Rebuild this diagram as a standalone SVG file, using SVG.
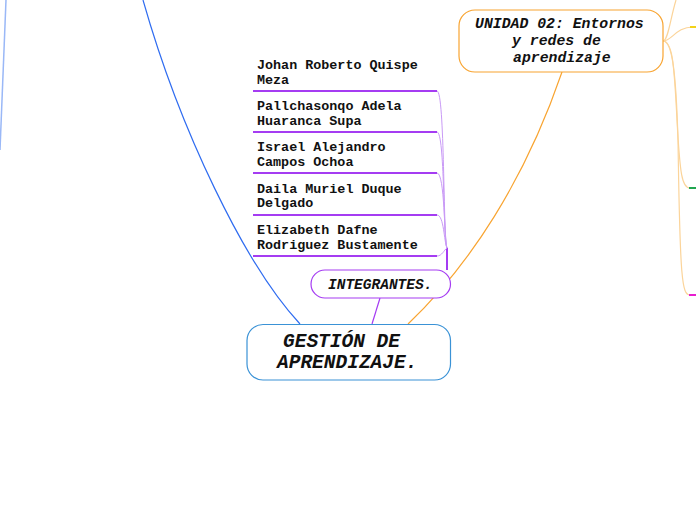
<svg xmlns="http://www.w3.org/2000/svg" width="696" height="520" viewBox="0 0 696 520">
<style>
.mono{font-family:"Liberation Mono","Courier New",monospace;font-weight:bold;fill:#111}
.it{font-style:italic}
.item{font-size:13.4px}
.pl{stroke:#a53cf2;stroke-width:2;fill:none}
.pt{stroke:#c99af6;stroke-width:1;fill:none}
.or{stroke:#fbd49a;stroke-width:1.2;fill:none}
</style>
<rect width="696" height="520" fill="#fff"/>
<g id="connectors" fill="none">
  <path d="M6,0 C4,60 2,110 0,150" stroke="#9ab8f7" stroke-width="1.5"/>
  <path d="M300,324 C245,265 180,130 143,0" stroke="#2f6cf0" stroke-width="1.2"/>
  <path d="M408,324 C470,265 525,180 562,72" stroke="#f8a431" stroke-width="1.2"/>
  <path d="M380,298 L372,324" stroke="#a53cf2" stroke-width="1.2"/>
  <path d="M447,248 L447,270" class="pl"/>
  <path d="M437,91 C445,91 443,240 447,248" class="pt"/>
  <path d="M437,132 C445,132 443,240 447,248" class="pt"/>
  <path d="M437,173 C445,173 444,240 447,248" class="pt"/>
  <path d="M437,215 C444,215 444,242 447,248" class="pt"/>
  <path d="M437,256 C442,256 444,250 447,248" class="pt"/>
  <path d="M663,41 C668,41 670,20 676,0" class="or"/>
  <path d="M663,41 C672,41 676,27 693,27" class="or"/>
  <path d="M663,41 C672,41 674,60 677,120 C680,175 682,188 690,188" class="or"/>
  <path d="M663,41 C672,41 676,70 678,140 C680,280 682,295 690,295" class="or"/>
  <path d="M690,27 L696,27" stroke="#f2d21a" stroke-width="2"/>
  <path d="M689,188 L696,188" stroke="#21a650" stroke-width="2"/>
  <path d="M689,295 L696,295" stroke="#e81ed0" stroke-width="2"/>
</g>
<g id="central">
  <rect x="247" y="324.5" width="203.5" height="55.5" rx="16" fill="#fff" stroke="#3a92d6" stroke-width="1.2"/>
  <text class="mono it" font-size="19.5" x="283" y="347">GESTIÓN DE</text>
  <text class="mono it" font-size="19.5" x="277" y="368">APRENDIZAJE.</text>
</g>
<g id="integrantes">
  <rect x="311" y="270" width="139.5" height="28" rx="14" fill="#fff" stroke="#a53cf2" stroke-width="1.2"/>
  <text class="mono it" font-size="14.5" x="328" y="289">INTEGRANTES.</text>
</g>
<g id="member1">
  <text class="mono item" x="257" y="69">Johan Roberto Quispe</text>
  <text class="mono item" x="257" y="83.5">Meza</text>
  <path d="M253,91 L437,91" class="pl"/>
</g>
<g id="member2">
  <text class="mono item" x="257" y="110">Pallchasonqo Adela</text>
  <text class="mono item" x="257" y="124.5">Huaranca Supa</text>
  <path d="M253,132 L437,132" class="pl"/>
</g>
<g id="member3">
  <text class="mono item" x="257" y="151">Israel Alejandro</text>
  <text class="mono item" x="257" y="166">Campos Ochoa</text>
  <path d="M253,173 L437,173" class="pl"/>
</g>
<g id="member4">
  <text class="mono item" x="257" y="192.5">Daila Muriel Duque</text>
  <text class="mono item" x="257" y="207">Delgado</text>
  <path d="M253,215 L437,215" class="pl"/>
</g>
<g id="member5">
  <text class="mono item" x="257" y="233.5">Elizabeth Dafne</text>
  <text class="mono item" x="257" y="248.5">Rodriguez Bustamente</text>
  <path d="M253,256 L437,256" class="pl"/>
</g>
<g id="unidad02">
  <rect x="459" y="10" width="204" height="62" rx="16" fill="#fff" stroke="#f8a431" stroke-width="1.2"/>
  <text class="mono it" font-size="14.8" x="475" y="28">UNIDAD 02: Entornos</text>
  <text class="mono it" font-size="14.8" x="512" y="45">y redes de</text>
  <text class="mono it" font-size="14.8" x="513" y="62">aprendizaje</text>
</g>
</svg>
